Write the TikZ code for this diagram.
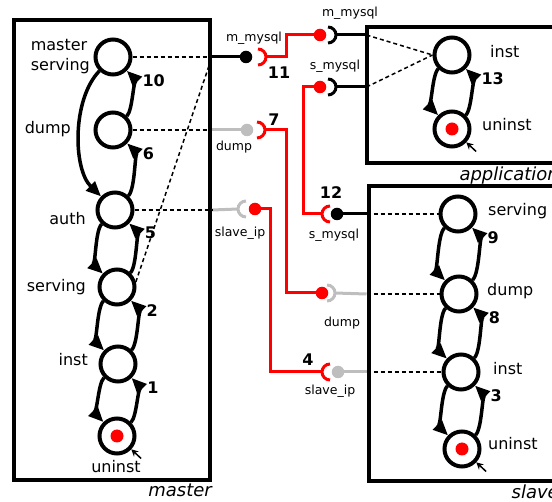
\documentclass[tikz,border=0pt]{standalone}
\usepackage{fontspec}
\setmainfont{DejaVu Sans}
\usetikzlibrary{arrows.meta,positioning}
\definecolor{portgray}{RGB}{190,190,190}

\tikzset{
  state/.style={circle, draw, line width=4pt, minimum size=35pt, inner sep=0pt},
  initstate/.style={state, path picture={\fill[red] (path picture bounding box.center) circle (6.5pt);}},
  trans/.style={-{Triangle[length=15pt,width=12.5pt]}, line width=3.5pt, bend right=45, looseness=0.5},
  initarr/.style={-{Stealth[length=7pt,width=7pt]}, line width=1.5pt},
  num/.style={font=\fontsize{16}{16}\bfseries\selectfont, inner sep=0pt},
  endnum/.style={num, at end, anchor=north west, xshift=14pt, yshift=-2pt},
  lbl/.style={font=\fontsize{16}{20}\selectfont, inner sep=0pt, align=left},
  portlbl/.style={font=\fontsize{12.5}{13}\selectfont, inner sep=0pt},
  boxlbl/.style={font=\fontsize{18}{20}\itshape\selectfont, inner sep=0pt, anchor=north east, yshift=-2pt},
  box/.style={draw, line width=4pt, inner sep=0pt},
  link/.style={line width=1.5pt, dash pattern=on 4pt off 3pt},
  plug/.style={circle, fill, inner sep=0pt, minimum size=12.5pt},
  wire/.style={line width=3pt},
  sockr/.pic={\draw[line width=3pt] (0,8pt) arc[start angle=90, end angle=-90, radius=8pt];
              \coordinate (-tip) at (8pt,0);},
  sockl/.pic={\draw[line width=3pt] (0,8pt) arc[start angle=90, end angle=270, radius=8pt];
              \coordinate (-tip) at (-8pt,0);}
}

\begin{document}
\begin{tikzpicture}[x=1pt, y=1pt, on grid]
  \useasboundingbox (0,0) rectangle (552,-502);

  % components
  \node[box, minimum width=196.5pt, minimum height=460pt] (master) at (111.75,-250) {};
  \node[box, minimum width=190.5pt, minimum height=136pt] (app) at (461.75,-95) {};
  \node[box, minimum width=188.5pt, minimum height=294.5pt] (slave) at (462.75,-333.75) {};
  \node[boxlbl] (masterl) at (master.south east) {master};
  \node[boxlbl] (appl) at (app.south east) {application};
  \node[boxlbl] (slavel) at (slave.south east) {slave};

  % master states
  \node[state] (ms) at (113,-57) {};
  \node[state] (md) [below=73pt of ms] {};
  \node[state] (ma) [below right=80pt and 2pt of md] {};
  \node[state] (mv) [below right=77pt and 2pt of ma] {};
  \node[state] (mi) [below right=77pt and 1pt of mv] {};
  \node[initstate] (mu) [below left=72pt and 1pt of mi] {};
  \node[lbl, anchor=east] (msl) at (90,-57) {master\\serving};
  \node[lbl, anchor=mid east] (mdl) at (71,-131) {dump};
  \node[lbl, anchor=mid east] (mal) at (86,-222) {auth};
  \node[lbl, anchor=mid east] (mvl) at (86,-289) {serving};
  \node[lbl, anchor=mid east] (mil) at (88,-363) {inst};
  \node[lbl, anchor=mid] (mul) at (116,-470) {uninst};

  % application states
  \node[state] (ai) at (452,-55) {};
  \node[initstate] (au) [below=74pt of ai] {};
  \node[lbl, anchor=mid west] (ail) at (490,-55) {inst};
  \node[lbl, anchor=mid west] (aul) at (482,-128) {uninst};

  % slave states
  \node[state] (ss) at (458,-214) {};
  \node[state] (sd) [below right=80pt and 1pt of ss] {};
  \node[state] (si) [below right=78pt and 2pt of sd] {};
  \node[initstate] (su) [below right=77pt and 1pt of si] {};
  \node[lbl, anchor=mid west] (ssl) at (488,-213) {serving};
  \node[lbl, anchor=mid west] (sdl) at (487,-293) {dump};
  \node[lbl, anchor=mid west] (sil) at (493,-372) {inst};
  \node[lbl, anchor=mid west] (sul) at (488,-447) {uninst};

  % transitions
  \path[trans]
    (md) edge node[endnum] {10} (ms)
    (ms) edge[looseness=0.8] (ma)
    (ma) edge node[endnum] {6} (md)
    (mv) edge node[endnum] {5} (ma)
    (ma) edge (mv)
    (mi) edge node[endnum] {2} (mv)
    (mv) edge (mi)
    (mu) edge node[endnum] {1} (mi)
    (mi) edge (mu)
    (au) edge node[endnum] {13} (ai)
    (ai) edge (au)
    (sd) edge node[endnum] {9} (ss)
    (ss) edge (sd)
    (si) edge node[endnum] {8} (sd)
    (sd) edge (si)
    (su) edge node[endnum] {3} (si)
    (si) edge (su);

  \coordinate (mu0) at ([shift={(-43:33)}]mu.center);
  \coordinate (au0) at ([shift={(-43:33)}]au.center);
  \coordinate (su0) at ([shift={(-43:33)}]su.center);
  \draw[initarr] (mu0) -- (mu.-43);
  \draw[initarr] (au0) -- (au.-43);
  \draw[initarr] (su0) -- (su.-43);

  % ports on the boxes
  \coordinate (cmm) at (master.east |- ms);
  \coordinate (cmd) at (master.east |- md);
  \coordinate (cmip) at (master.east |- ma);
  \coordinate (cam) at (366.5,-35);
  \coordinate (cas) at (366.5,-87);
  \coordinate (css) at (slave.west |- ss);
  \coordinate (csd) at (slave.west |- sd);
  \coordinate (csip) at (slave.west |- si);

  % plugs and sockets
  \node[plug] (pmm) at (246,-57) {};
  \node[plug, portgray] (pmd) at (247,-130) {};
  \node[plug, red] (pmip) at (255,-209) {};
  \node[plug, red] (pam) at (320,-35) {};
  \node[plug, red] (pas) at (320,-87) {};
  \node[plug] (pss) at (337,-214) {};
  \node[plug, red] (psd) at (322,-293) {};
  \node[plug, portgray] (psip) at (338,-372) {};
  \pic[red] (smm) at (258,-57) {sockr};
  \pic[red] (smd) at (257,-130) {sockr};
  \pic[portgray] (smip) at (246,-209) {sockl};
  \pic (sam) at (328,-35) {sockr};
  \pic (sas) at (328,-87) {sockr};
  \pic[red] (sss) at (330,-214) {sockl};
  \pic[portgray] (ssd) at (327,-293) {sockr};
  \pic[red] (ssip) at (330,-372) {sockl};

  % wires
  \draw[wire] (cmm) -- (pmm);
  \draw[wire, portgray] (cmd) -- (pmd);
  \draw[wire, portgray] (cmip) -- (smip-tip);
  \draw[wire, red] (smm-tip) -- ++(20,0) |- (pam);
  \draw[wire, red] (smd-tip) -- ++(21,0) |- (psd);
  \draw[wire, red] (pmip) -- ++(15,0) |- (ssip-tip);
  \draw[wire, red] (pas) -- ++(-17,0) |- (sss-tip);
  \draw[wire] (sam-tip) -- (cam);
  \draw[wire] (sas-tip) -- (cas);
  \draw[wire] (pss) -- (css);
  \draw[wire, portgray] (ssd-tip) -- (csd);
  \draw[wire, portgray] (psip) -- (csip);

  % links from states to ports
  \draw[link] (ms) -- (cmm);
  \draw[link] (md) -- (cmd);
  \draw[link] (ma) -- (cmip);
  \draw[link] (mv.15) -- (cmm);
  \draw[link] (cam) -- (ai.west);
  \draw[link] (cas) -- (ai.west);
  \draw[link] (css) -- (ss);
  \draw[link] (csd) -- (sd);
  \draw[link] (csip) -- (si);

  % port labels
  \node[portlbl] (lmm) at (254,-38) {m\_mysql};
  \node[portlbl] (lmd) at (234,-147) {dump};
  \node[portlbl] (lmip) at (240,-233) {slave\_ip};
  \node[portlbl] (lam) at (350,-13) {m\_mysql};
  \node[portlbl] (las) at (335,-66) {s\_mysql};
  \node[portlbl] (lss) at (334,-235) {s\_mysql};
  \node[portlbl] (lsd) at (342,-323) {dump};
  \node[portlbl] (lsip) at (330,-391) {slave\_ip};
  \node[num] (n11) at (279,-73) {11};
  \node[num] (n7) at (274,-120) {7};
  \node[num] (n12) at (331,-193) {12};
  \node[num] (n4) at (308,-360) {4};
\end{tikzpicture}
\end{document}
